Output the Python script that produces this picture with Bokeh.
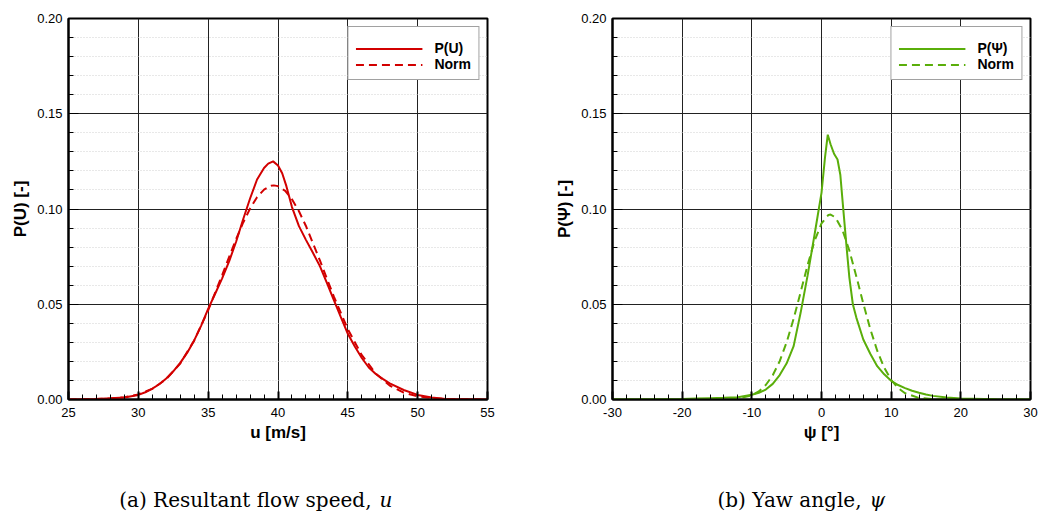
from bokeh.plotting import figure
from bokeh.layouts import row, column
from bokeh.models import Range1d, FixedTicker, NumeralTickFormatter
from bokeh.core.properties import value
from bokeh.embed import file_html
from bokeh.resources import INLINE

# ---------------- data ----------------
u_x = [25, 27, 28, 29, 30, 30.5, 31, 31.5, 32, 32.5, 33, 33.5, 34, 34.5, 35, 35.5, 36, 36.5,
       37, 37.5, 38, 38.5, 39, 39.3, 39.65, 40, 40.3, 40.6, 41, 41.5, 42, 42.5, 43, 43.5, 44,
       44.5, 45, 45.5, 46, 46.5, 47, 47.5, 48, 49, 50, 51, 52, 55]
p_u = [0, 0.0003, 0.0006, 0.0011, 0.0024, 0.0038, 0.0057, 0.008, 0.011, 0.0148, 0.0192, 0.0246,
       0.031, 0.0388, 0.0476, 0.0555, 0.0636, 0.0725, 0.0828, 0.0945, 0.1055, 0.1155, 0.1215,
       0.1238, 0.1250, 0.1228, 0.1188, 0.1120, 0.1010, 0.0910, 0.0838, 0.0770, 0.0700, 0.0612,
       0.0522, 0.0432, 0.0345, 0.0278, 0.0218, 0.0168, 0.0134, 0.0108, 0.0085, 0.0050, 0.0024,
       0.0010, 0.0003, 0]

norm_u_x = [25, 28, 29, 30, 31, 32, 33, 34, 35, 36, 37, 37.5, 38, 38.5, 39, 39.5, 39.7, 40, 40.5,
            41, 41.5, 42, 43, 44, 45, 46, 47, 48, 49, 50, 51, 52, 55]
norm_u = [0, 0.0005, 0.0012, 0.0027, 0.0056, 0.0107, 0.0189, 0.0310, 0.0468, 0.0653, 0.0842,
          0.0928, 0.1002, 0.1062, 0.1102, 0.1122, 0.1124, 0.1120, 0.1096, 0.1051, 0.0988,
          0.0911, 0.0730, 0.0540, 0.0369, 0.0233, 0.0136, 0.0073, 0.0036, 0.0017, 0.0007,
          0.0003, 0]

psi_x = [-30, -20, -18, -16, -14, -12, -10, -9, -8, -7, -6, -5, -4, -3, -2, -1, -0.5, 0, 0.5,
         0.9, 1.3, 1.8, 2.3, 2.7, 3.1, 3.6, 4, 4.5, 5, 6, 7, 8, 9, 10, 11, 12, 13, 14, 15, 16,
         18, 20, 25, 30]
p_psi = [0, 0.0003, 0.0005, 0.0007, 0.0009, 0.0012, 0.0025, 0.0035, 0.0052, 0.0082, 0.0128,
         0.019, 0.028, 0.0455, 0.065, 0.0865, 0.0975, 0.1085, 0.127, 0.139, 0.134, 0.129, 0.126,
         0.118, 0.101, 0.080, 0.064, 0.050, 0.043, 0.0315, 0.024, 0.0175, 0.0132, 0.0098,
         0.0076, 0.006, 0.0046, 0.0035, 0.0026, 0.0019, 0.001, 0.0005, 0.0001, 0]

norm_psi_x = [-30, -16, -14, -12, -10, -9, -8, -7, -6, -5, -4, -3, -2, -1, 0, 1, 1.3, 2, 3, 4,
              5, 6, 7, 8, 9, 10, 11, 12, 14, 16, 18, 30]
norm_psi = [0, 0.0000, 0.0001, 0.0005, 0.0022, 0.0042, 0.0076, 0.0127, 0.0201, 0.0301, 0.0424,
            0.0563, 0.0705, 0.0832, 0.0924, 0.0969, 0.0971, 0.0956, 0.0890, 0.0782, 0.0646,
            0.0504, 0.0370, 0.0256, 0.0167, 0.0103, 0.0060, 0.0033, 0.0008, 0.0002, 0.0000, 0]

y_ticks = [0.0, 0.05, 0.10, 0.15, 0.20]
y_minor = [0.01 * i for i in range(21)]
u_ticks = [25, 30, 35, 40, 45, 50, 55]
u_minor = list(range(25, 56))
psi_ticks = [-30, -20, -10, 0, 10, 20, 30]
psi_minor = list(range(-30, 31, 2))

captions = [("(a) Resultant flow speed,", "u"), ("(b) Yaw angle,", "ψ")]

RED = "#d20000"
GREEN = "#5aae0a"
SANS = "Liberation Sans"


def make_panel(xs, ys, nxs, nys, xr, xticks, xminor, color, lab, xlabel, ylabel,
               border_left, border_right):
    p = figure(frame_width=xr[2], frame_height=381, min_border_left=border_left,
               min_border_right=border_right, min_border_top=18, min_border_bottom=61,
               x_range=Range1d(xr[0], xr[1]), y_range=Range1d(0, 0.2),
               output_backend="svg", toolbar_location=None, background_fill_color="white",
               border_fill_color="white")
    p.outline_line_color = "black"
    p.outline_line_width = 2

    p.xaxis.ticker = FixedTicker(ticks=xticks, minor_ticks=xminor)
    p.yaxis.ticker = FixedTicker(ticks=y_ticks, minor_ticks=y_minor)
    p.yaxis.formatter = NumeralTickFormatter(format="0.00")
    p.xaxis.formatter = NumeralTickFormatter(format="0")

    for ax in (p.xaxis, p.yaxis):
        ax.axis_line_width = 2
        ax.axis_line_color = "black"
        ax.major_tick_out = 0
        ax.minor_tick_out = 0
        ax.major_tick_line_color = "black"
        ax.minor_tick_line_color = "black"
        ax.major_label_text_font = SANS
        ax.major_label_text_font_size = "13px"
        ax.major_label_text_color = "black"
        ax.axis_label_text_font = SANS
        ax.axis_label_text_font_size = "17px"
        ax.axis_label_text_font_style = "bold"
        ax.axis_label_text_color = "black"
    p.xaxis.major_tick_in = 8
    p.xaxis.minor_tick_in = 5
    p.xaxis.major_tick_line_width = 2
    p.yaxis.major_tick_in = 10
    p.yaxis.minor_tick_in = 5
    p.xaxis.major_label_standoff = 8
    p.yaxis.major_label_standoff = 6
    p.xaxis.axis_label_standoff = 3
    p.yaxis.axis_label_standoff = 4
    p.xaxis.axis_label = xlabel
    p.yaxis.axis_label = ylabel

    p.xgrid.grid_line_color = "#222222"
    p.ygrid.grid_line_color = "#222222"
    p.xgrid.grid_line_width = 1
    p.ygrid.grid_line_width = 1
    p.ygrid.minor_grid_line_color = "#d0d0d0"
    p.ygrid.minor_grid_line_dash = "1 2"
    p.ygrid.minor_grid_line_width = 1

    p.line(xs, ys, line_color=color, line_width=2, legend_label=lab)
    p.line(nxs, nys, line_color=color, line_width=2, line_dash="8 5", legend_label="Norm")

    lg = p.legend[0]
    lg.location = "top_right"
    lg.margin = 8
    lg.padding = 7
    lg.spacing = 0
    lg.title = " "
    lg.title_text_font_size = "5px"
    lg.title_standoff = 0
    lg.label_height = 15
    lg.glyph_height = 15
    lg.glyph_width = 67
    lg.label_standoff = 12
    lg.label_text_font = SANS
    lg.label_text_font_size = "14px"
    lg.label_text_font_style = "bold"
    lg.label_text_color = "black"
    lg.border_line_color = "#444444"
    lg.border_line_width = 1
    lg.background_fill_color = "white"
    lg.background_fill_alpha = 1
    return p


def make_caption(main, ital, x_split):
    c = figure(width=520, height=53, x_range=Range1d(0, 520), y_range=Range1d(0, 53),
               output_backend="svg", toolbar_location=None, min_border=0,
               border_fill_color="white", background_fill_color="white")
    c.axis.visible = False
    c.grid.visible = False
    c.outline_line_color = None
    c.text(x=[x_split], y=[14], text=[main], text_align="right", text_baseline="middle",
           text_font=value("DejaVu Serif"), text_font_size="20px", text_color="black")
    c.text(x=[x_split + 8], y=[14], text=[ital], text_align="left", text_baseline="middle",
           text_font=value("DejaVu Serif"), text_font_style="italic", text_font_size="20px",
           text_color="black")
    return c


p1 = make_panel(u_x, p_u, norm_u_x, norm_u, (25, 55, 419), u_ticks, u_minor, RED, "P(U)",
                "u [m/s]", "P(U) [-]", 68, 33)
p2 = make_panel(psi_x, p_psi, norm_psi_x, norm_psi, (-30, 30, 418), psi_ticks, psi_minor, GREEN,
                "P(Ψ)", "ψ [°]", "P(Ψ) [-]", 92, 10)

c1 = make_caption(captions[0][0], captions[0][1], 371)
c2 = make_caption(captions[1][0], captions[1][1], 341)

layout = column(row(p1, p2), row(c1, c2))
open("out.html", "w").write(file_html(layout, INLINE))
